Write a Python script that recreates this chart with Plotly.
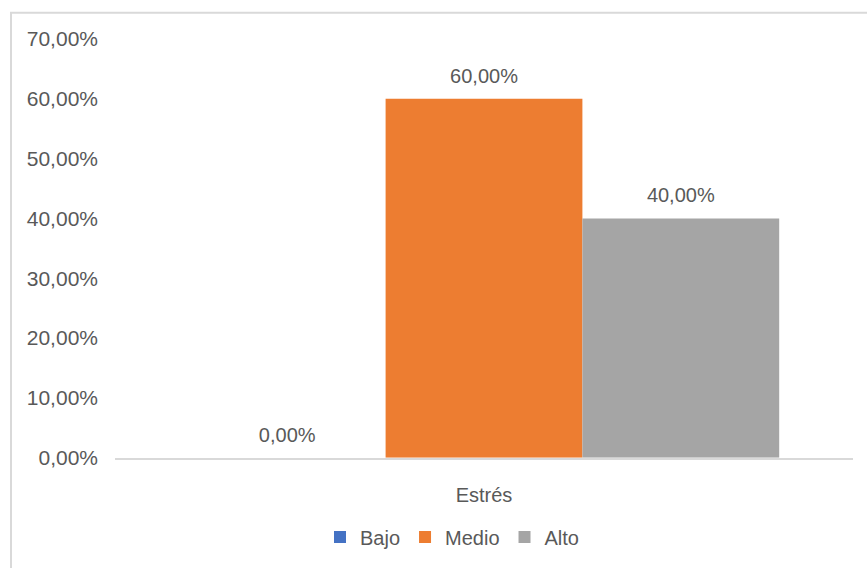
import plotly.graph_objects as go

categories = ["Estrés"]
series_names = ["Bajo", "Medio", "Alto"]
series_values = [[0.0], [0.60], [0.40]]
series_colors = ["#4472C4", "#ED7D31", "#A5A5A5"]
y_ticks = [0, 0.1, 0.2, 0.3, 0.4, 0.5, 0.6, 0.7]

FONT = dict(family="Liberation Sans, Arial, sans-serif", size=20, color="#595959")

fig = go.Figure()
for name, vals, col in zip(series_names, series_values, series_colors):
    fig.add_trace(go.Bar(
        x=categories, y=vals, name=name, marker=dict(color=col, line=dict(width=0)),
        offsetgroup=name,
    ))
for name, vals in zip(series_names, series_values):
    fig.add_trace(go.Scatter(
        x=categories, y=vals, mode="markers+text", offsetgroup=name,
        marker=dict(size=16, opacity=0), text=[f"{v:.2%}".replace(".", ",") for v in vals],
        textposition="top center", textfont=FONT, showlegend=False, hoverinfo="skip",
        cliponaxis=False,
    ))

fig.update_layout(
    width=867, height=568,
    margin=dict(l=115, r=14, t=39, b=108),
    paper_bgcolor="white", plot_bgcolor="white",
    font=FONT,
    separators=",.",
    barmode="group", bargap=0.2, bargroupgap=0,
    scattermode="group", scattergap=0.2,
    showlegend=True,
    legend=dict(orientation="h", x=(484 - 32 - 115) / 738, xanchor="center", y=31 / 568,
                yanchor="middle", yref="container", font=FONT, traceorder="normal",
                itemwidth=30),
    xaxis=dict(showline=True, linecolor="#D9D9D9", linewidth=1.5, ticks="",
               showgrid=False, ticklabelstandoff=18, zeroline=False),
    yaxis=dict(range=[0, 0.7], tickvals=y_ticks, tickformat=".2%", showgrid=False,
               zeroline=False, showline=False, ticks="", ticklabelstandoff=16,
               tickfont=dict(size=21)),
    shapes=[dict(type="rect", xref="paper", yref="paper",
                 x0=(11 - 115) / 738, x1=(880 - 115) / 738,
                 y0=(460 - 580) / 421, y1=(460 - 12.5) / 421,
                 line=dict(color="#D9D9D9", width=2), layer="below")],
)

fig.write_html("out.html")
